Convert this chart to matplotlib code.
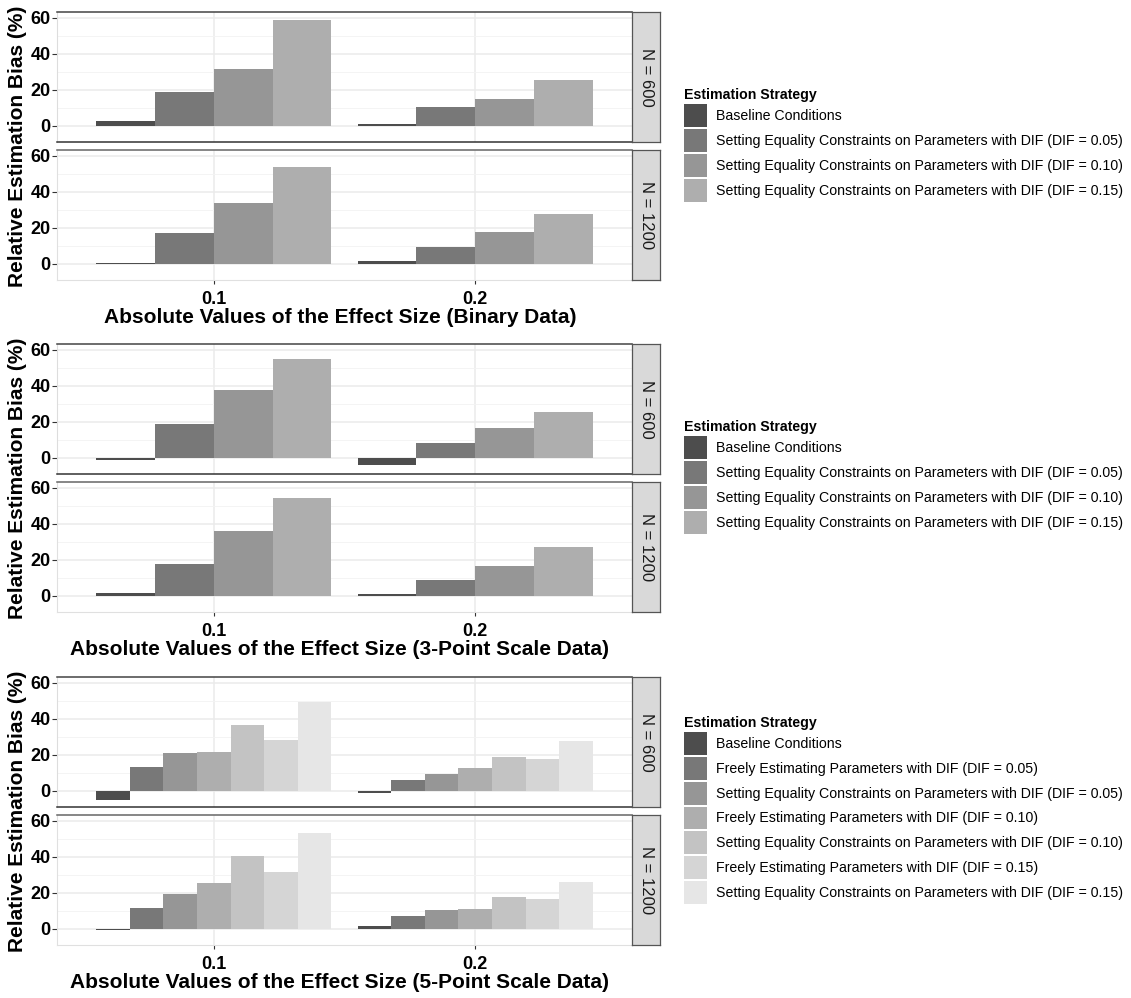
import matplotlib.pyplot as plt
from matplotlib.patches import Patch

plt.rcParams['font.family'] = ['Liberation Sans', 'DejaVu Sans']

# effect sizes on the x axis
effect_sizes = ["0.1", "0.2"]

# strategies (legend entries)
strategies_4 = ["Baseline Conditions",
                "Setting Equality Constraints on Parameters with DIF (DIF = 0.05)",
                "Setting Equality Constraints on Parameters with DIF (DIF = 0.10)",
                "Setting Equality Constraints on Parameters with DIF (DIF = 0.15)"]
strategies_7 = ["Baseline Conditions",
                "Freely Estimating Parameters with DIF (DIF = 0.05)",
                "Setting Equality Constraints on Parameters with DIF (DIF = 0.05)",
                "Freely Estimating Parameters with DIF (DIF = 0.10)",
                "Setting Equality Constraints on Parameters with DIF (DIF = 0.10)",
                "Freely Estimating Parameters with DIF (DIF = 0.15)",
                "Setting Equality Constraints on Parameters with DIF (DIF = 0.15)"]

greys_7 = ["#4D4D4D", "#787878", "#969696", "#AEAEAE", "#C3C3C3", "#D5D5D5", "#E6E6E6"]
greys_4 = greys_7[:4]

# relative estimation bias (%), one row per effect size (0.1, 0.2)
binary_600 = [[2.8, 18.6, 31.4, 58.9],
              [0.9, 10.6, 14.9, 25.3]]
binary_1200 = [[0.2, 17.3, 33.9, 54.0],
               [1.3, 9.3, 17.9, 27.7]]
point3_600 = [[-1.5, 18.5, 37.6, 54.8],
              [-4.1, 8.0, 16.6, 25.2]]
point3_1200 = [[1.3, 17.8, 36.1, 54.2],
               [0.7, 8.5, 16.5, 26.9]]
point5_600 = [[-5.2, 13.0, 20.7, 21.5, 36.7, 28.3, 49.6],
              [-1.5, 5.7, 9.4, 12.4, 18.9, 17.8, 27.6]]
point5_1200 = [[-0.7, 11.3, 19.3, 25.5, 40.7, 31.4, 53.0],
               [1.5, 7.1, 10.2, 10.8, 17.5, 16.4, 26.0]]

panel_labels = ["N = 600", "N = 1200"]

blocks = [
    (binary_600, binary_1200, strategies_4, greys_4,
     "Absolute Values of the Effect Size (Binary Data)", 12),
    (point3_600, point3_1200, strategies_4, greys_4,
     "Absolute Values of the Effect Size (3-Point Scale Data)", 344),
    (point5_600, point5_1200, strategies_7, greys_7,
     "Absolute Values of the Effect Size (5-Point Scale Data)", 677),
]

W, H = 1131, 998
fig = plt.figure(figsize=(W / 100, H / 100), dpi=100)


def box(x0, y0, x1, y1):
    return [x0 / W, 1 - y1 / H, (x1 - x0) / W, (y1 - y0) / H]


PL, PR, SR = 57, 632, 660
PH, GAP = 130, 8
LFS = 10.2  # legend font size

for d600, d1200, strats, cols, xlabel, top in blocks:
    k = len(strats)
    w = 0.9 / k
    for p, (data, lab) in enumerate(zip([d600, d1200], panel_labels)):
        y0 = top + p * (PH + GAP)
        ax = fig.add_axes(box(PL, y0, PR, y0 + PH))
        for i in range(k):
            xs = [g + 1 - 0.45 + (i + 0.5) * w for g in range(len(effect_sizes))]
            ys = [data[g][i] for g in range(len(effect_sizes))]
            ax.bar(xs, ys, width=w, color=cols[i], edgecolor='none', zorder=3)
        ax.set_xlim(0.4, 2.6)
        ax.set_ylim(-9.1, 63.3)
        ax.set_yticks([0, 20, 40, 60])
        ax.set_yticks([10, 30, 50], minor=True)
        ax.set_xticks([1, 2])
        ax.grid(True, which='major', color='#ebebeb', lw=1.1, zorder=0)
        ax.grid(True, which='minor', axis='y', color='#f3f3f3', lw=0.6, zorder=0)
        ax.tick_params(axis='y', which='major', length=3.5, width=0.8, color='#333333',
                       labelsize=13, pad=1)
        ax.tick_params(which='minor', length=0)
        for t in ax.get_yticklabels():
            t.set_fontweight('bold')
        if p == 0:
            ax.tick_params(axis='x', length=0, labelbottom=False)
            ax.spines['top'].set_color('#444444')
            ax.spines['bottom'].set_color('#333333')
            ax.spines['left'].set_color('#dddddd')
        else:
            ax.set_xticklabels(effect_sizes, fontweight='bold')
            ax.tick_params(axis='x', length=3, width=0.8, color='#333333',
                           labelsize=13, pad=5)
            ax.spines['top'].set_color('#666666')
            ax.spines['bottom'].set_color('#e0e0e0')
            ax.spines['left'].set_color('#e0e0e0')
            ax.set_xlabel(xlabel, fontsize=15, fontweight='bold')
            ax.xaxis.set_label_coords(0.492, -0.215)
        ax.spines['top'].set_linewidth(1.1)
        ax.spines['bottom'].set_linewidth(1.1 if p == 0 else 0.8)
        ax.spines['left'].set_linewidth(0.8)
        ax.spines['right'].set_visible(False)

        # facet strip
        sx = fig.add_axes(box(PR, y0, SR, y0 + PH))
        sx.set_facecolor('#d9d9d9')
        sx.set_xticks([])
        sx.set_yticks([])
        for s in sx.spines.values():
            s.set_color('#555555')
            s.set_linewidth(0.9)
        sx.text(0.5, 0.5, lab, rotation=-90, ha='center', va='center',
                fontsize=12, color='#1a1a1a', transform=sx.transAxes)

    mid = top + PH + GAP / 2
    fig.text(18 / W, 1 - mid / H, "Relative Estimation Bias (%)", rotation=90,
             ha='center', va='center', fontsize=15, fontweight='bold')

    handles = [Patch(facecolor=c, edgecolor='none') for c in cols]
    fig.legend(handles, strats, loc='center left',
               bbox_to_anchor=(684 / W, 1 - (mid - 1) / H),
               frameon=False, fontsize=LFS, title="Estimation Strategy",
               title_fontproperties={'weight': 'bold', 'size': LFS},
               handlelength=1.62, handleheight=2.115, labelspacing=0.14,
               handletextpad=0.63, borderpad=0, borderaxespad=0,
               alignment='left')

fig.savefig("out.png", dpi=100)
